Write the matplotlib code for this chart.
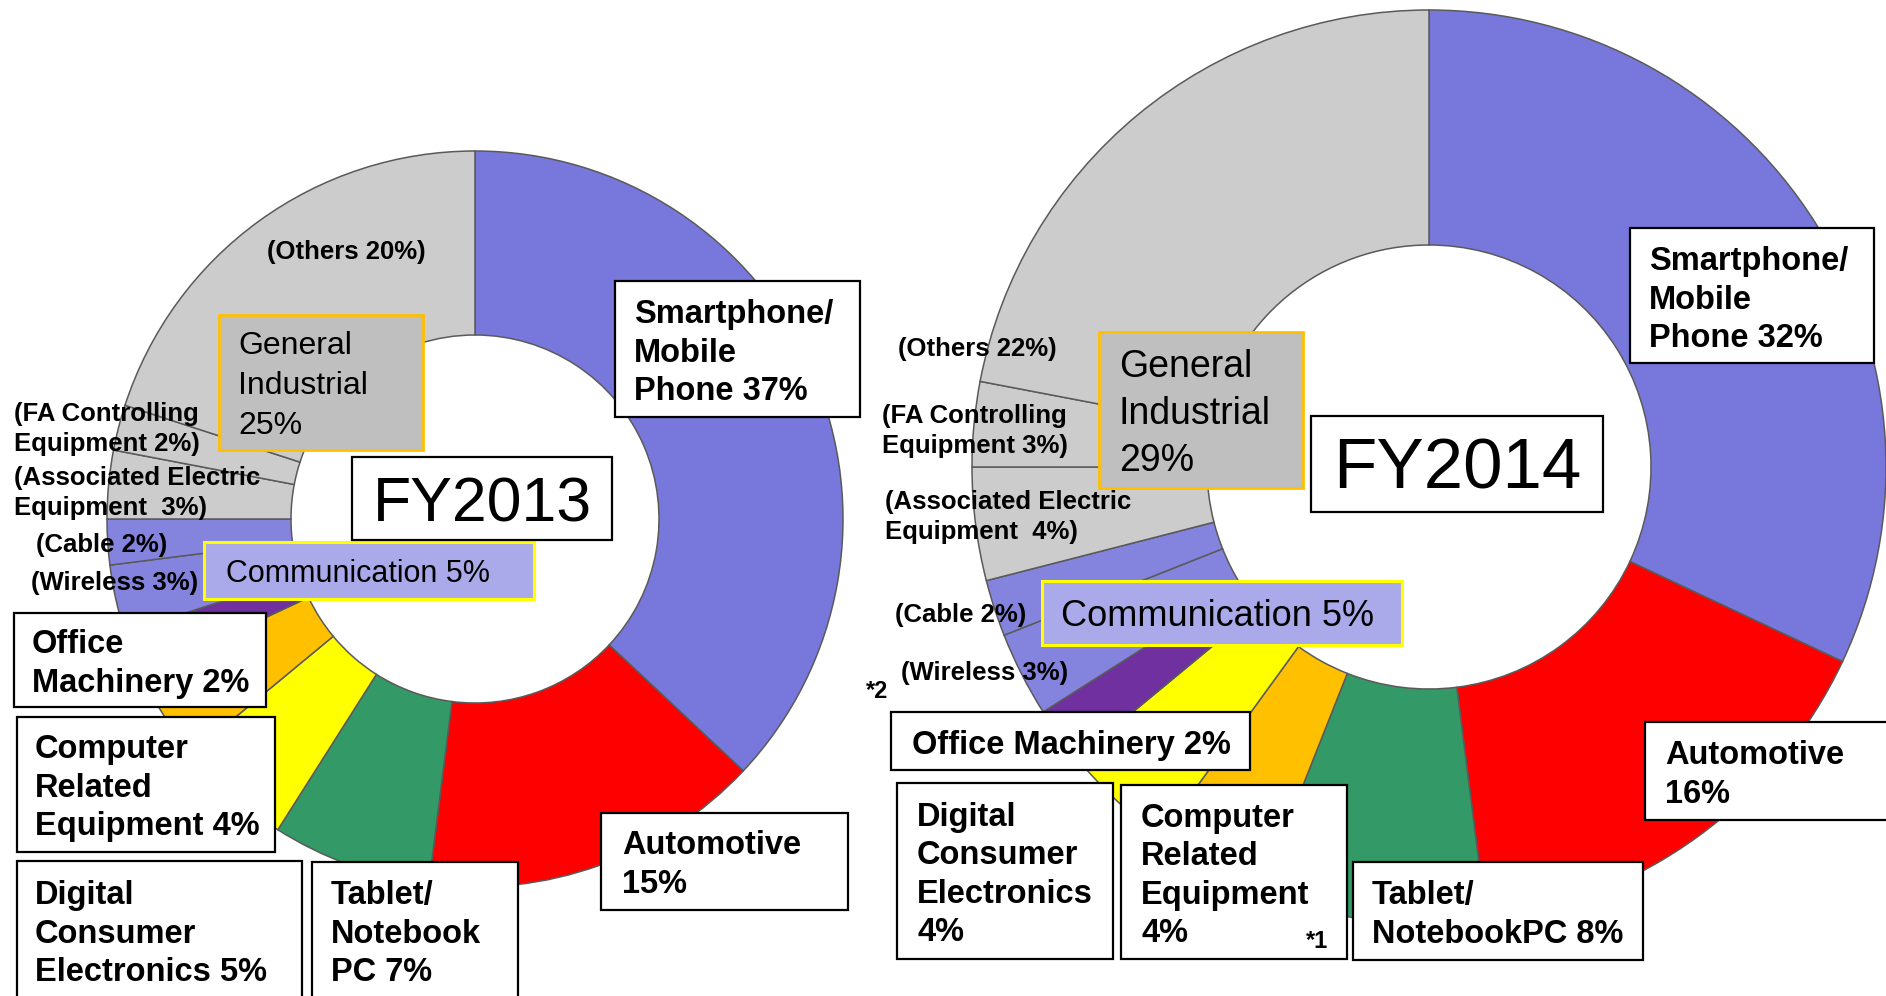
import matplotlib
matplotlib.use('Agg')
import matplotlib.pyplot as plt
from matplotlib.patches import Rectangle

plt.rcParams['font.family'] = ['Liberation Sans', 'DejaVu Sans']

# 用途別の構成比（時計回り、12時の位置から）
cats_2013 = ['Smartphone', 'Automotive', 'Tablet', 'Digital', 'Computer', 'Office',
             'Wireless', 'Cable', 'Associated', 'FA', 'Others']
vals_2013 = [37, 15, 7, 5, 4, 2, 3, 2, 3, 2, 20]

cats_2014 = ['Smartphone', 'Automotive', 'Tablet', 'Computer', 'Digital', 'Office',
             'Wireless', 'Cable', 'Associated', 'FA', 'Others']
vals_2014 = [32, 16, 8, 4, 4, 2, 3, 2, 4, 3, 22]

cat_color = {'Smartphone': '#7878DC', 'Automotive': '#FF0000', 'Tablet': '#339966',
             'Digital': '#FFFF00', 'Computer': '#FFC000', 'Office': '#7030A0',
             'Wireless': '#8484DE', 'Cable': '#8484DE', 'Associated': '#CCCCCC',
             'FA': '#CCCCCC', 'Others': '#CCCCCC'}

W, H = 1886, 996
fig = plt.figure(figsize=(W / 100, H / 100), dpi=100)
ax = fig.add_axes([0, 0, 1, 1])

def donut(cats, vals, center, r_out, r_in):
    # y軸を反転しているので startangle=270, counterclock=True で見た目は時計回り
    ax.pie(vals, colors=[cat_color[c] for c in cats], center=center, radius=r_out,
           startangle=270, counterclock=True, frame=True,
           wedgeprops=dict(width=r_out - r_in, edgecolor='#5a5a5a', linewidth=1.1))

donut(cats_2013, vals_2013, (475, 519), 368, 184)
donut(cats_2014, vals_2014, (1429, 467), 457, 222)

ax.set_xlim(0, W)
ax.set_ylim(H, 0)
ax.set_aspect('equal')
ax.axis('off')

v13 = dict(zip(cats_2013, vals_2013))
v14 = dict(zip(cats_2014, vals_2014))

def box(x0, y0, x1, y1, fc='white', ec='black', lw=1.6):
    ax.add_patch(Rectangle((x0, y0), x1 - x0, y1 - y0, facecolor=fc, edgecolor=ec,
                           linewidth=lw, zorder=5))

def label(x, y, s, size=23.5, weight='bold', ha='left', ls=1.3):
    # 文字の見た目の中心が少し上に寄るので 3px 下げる
    ax.text(x, y + 3, s, fontsize=size, fontweight=weight, ha=ha, va='center',
            linespacing=ls, zorder=6)

# ---- FY2013 ----
box(615, 281, 860, 417)
label(634, 350, f'Smartphone/\nMobile\nPhone {v13["Smartphone"]}%')
box(601, 813, 848, 910)
label(622, 862, f'Automotive\n{v13["Automotive"]}%')
box(312, 862, 518, 1010)
label(331, 931, f'Tablet/\nNotebook\nPC {v13["Tablet"]}%')
box(17, 861, 302, 1010)
label(35, 931, f'Digital\nConsumer\nElectronics {v13["Digital"]}%')
box(17, 717, 275, 852)
label(35, 785, f'Computer\nRelated\nEquipment {v13["Computer"]}%')
box(14, 613, 266, 707)
label(32, 661, f'Office\nMachinery {v13["Office"]}%')

box(204, 542, 534, 599, fc='#AAAAEA', ec='#FFFF00', lw=2.2)
label(226, 571, f'Communication {v13["Wireless"] + v13["Cable"]}%', size=22, weight='normal')
gi13 = v13['Associated'] + v13['FA'] + v13['Others']
box(219, 315, 423, 450, fc='#BFBFBF', ec='#FFC000', lw=2.0)
label(238, 383, f'General\nIndustrial\n{gi13}%', size=23, weight='normal', ls=1.42)

box(352, 457, 612, 540)
label(482, 502, 'FY2013', size=45, weight='normal', ha='center')

label(346, 249, f'(Others {v13["Others"]}%)', size=18.5, ha='center')
label(14, 426, f'(FA Controlling\nEquipment {v13["FA"]}%)', size=18.5)
label(14, 490, f'(Associated Electric\nEquipment  {v13["Associated"]}%)', size=18.5)
label(36, 542, f'(Cable {v13["Cable"]}%)', size=18.5)
label(31, 580, f'(Wireless {v13["Wireless"]}%)', size=18.5)

# ---- FY2014 ----
box(1630, 228, 1874, 363)
label(1649, 297, f'Smartphone/\nMobile\nPhone {v14["Smartphone"]}%')
box(1645, 722, 1895, 820)
label(1665, 772, f'Automotive\n{v14["Automotive"]}%')
box(1353, 862, 1643, 960)
label(1372, 912, f'Tablet/\nNotebookPC {v14["Tablet"]}%')
box(1121, 785, 1347, 959)
label(1141, 873, f'Computer\nRelated\nEquipment\n{v14["Computer"]}%')
ax.text(1317, 941, '*1', fontsize=17, fontweight='bold', ha='center', va='center', zorder=6)
box(897, 783, 1113, 959)
label(917, 872, f'Digital\nConsumer\nElectronics\n{v14["Digital"]}%')
box(891, 712, 1250, 770)
label(912, 742, f'Office Machinery {v14["Office"]}%')

box(1042, 581, 1402, 645, fc='#AAAAEA', ec='#FFFF00', lw=2.2)
label(1061, 613, f'Communication {v14["Wireless"] + v14["Cable"]}%', size=26, weight='normal')
gi14 = v14['Associated'] + v14['FA'] + v14['Others']
box(1099, 332, 1303, 488, fc='#BFBFBF', ec='#FFC000', lw=2.0)
label(1119, 411, f'General\nIndustrial\n{gi14}%', size=27, weight='normal', ls=1.38)

box(1311, 416, 1603, 512)
label(1457, 467, 'FY2014', size=51, weight='normal', ha='center')

label(977, 346, f'(Others {v14["Others"]}%)', size=18.5, ha='center')
label(882, 428, f'(FA Controlling\nEquipment {v14["FA"]}%)', size=18.5)
label(885, 514, f'(Associated Electric\nEquipment  {v14["Associated"]}%)', size=18.5)
label(895, 612, f'(Cable {v14["Cable"]}%)', size=18.5)
label(901, 670, f'(Wireless {v14["Wireless"]}%)', size=18.5)
ax.text(866, 691, '*2', fontsize=17, fontweight='bold', ha='left', va='center', zorder=6)

fig.savefig('out.png', dpi=100)
